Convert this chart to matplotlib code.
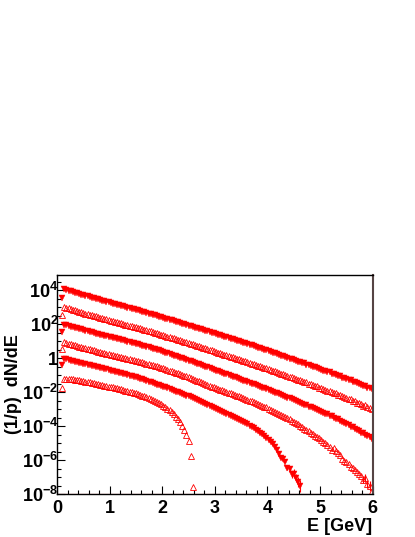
import numpy as np
import matplotlib
matplotlib.use('Agg')
import matplotlib.pyplot as plt
from matplotlib.ticker import FixedLocator, NullFormatter

plt.rcParams['font.family'] = 'Liberation Sans'
plt.rcParams['font.weight'] = 'bold'
plt.rcParams['mathtext.fontset'] = 'custom'
plt.rcParams['mathtext.rm'] = 'Liberation Sans:bold'
plt.rcParams['mathtext.bf'] = 'Liberation Sans:bold'
plt.rcParams['mathtext.it'] = 'Liberation Sans:bold'

# bin centres in GeV (0.04 GeV bins, first centre at 0.10)
E = np.round(np.arange(148) * 0.04 + 0.10, 2)

# log10 of (1/p) dN/dE, one list per spectrum, top to bottom
# (one line per GeV: 0.10-0.98, 1.02-1.98, ...)
s1 = [3.55, 4.06, 4.02, 3.98, 3.95, 3.91, 3.87, 3.83, 3.80, 3.76, 3.72, 3.68, 3.65, 3.61, 3.58, 3.54, 3.50, 3.47, 3.43, 3.40, 3.36, 3.32, 3.29,
      3.25, 3.22, 3.19, 3.16, 3.12, 3.09, 3.06, 3.02, 2.99, 2.96, 2.92, 2.89, 2.86, 2.82, 2.79, 2.75, 2.71, 2.68, 2.64, 2.60, 2.57, 2.53, 2.49, 2.46, 2.42,
      2.38, 2.34, 2.31, 2.27, 2.23, 2.19, 2.16, 2.12, 2.08, 2.04, 2.01, 1.97, 1.93, 1.89, 1.85, 1.81, 1.78, 1.74, 1.70, 1.66, 1.62, 1.58, 1.55, 1.51, 1.47,
      1.43, 1.39, 1.35, 1.31, 1.27, 1.23, 1.19, 1.16, 1.12, 1.08, 1.04, 1.00, 0.96, 0.92, 0.88, 0.84, 0.80, 0.76, 0.71, 0.67, 0.63, 0.59, 0.55, 0.51, 0.47,
      0.43, 0.38, 0.34, 0.30, 0.25, 0.22, 0.16, 0.13, 0.07, 0.04, -0.02, -0.05, -0.10, -0.13, -0.19, -0.22, -0.28, -0.30, -0.37, -0.40, -0.43, -0.50, -0.52, -0.60, -0.61,
      -0.68, -0.72, -0.74, -0.82, -0.83, -0.91, -0.93, -0.99, -1.05, -1.06, -1.15, -1.16, -1.22, -1.30, -1.30, -1.40, -1.40, -1.48, -1.52, -1.55, -1.64, -1.63, -1.74, -1.74, -1.83]
s2 = [2.55, 3.01, 2.97, 2.94, 2.90, 2.86, 2.83, 2.79, 2.75, 2.72, 2.68, 2.64, 2.61, 2.57, 2.54, 2.50, 2.47, 2.43, 2.40, 2.36, 2.33, 2.29, 2.26,
      2.22, 2.19, 2.16, 2.12, 2.09, 2.06, 2.02, 1.99, 1.96, 1.93, 1.89, 1.86, 1.83, 1.79, 1.76, 1.72, 1.69, 1.65, 1.61, 1.58, 1.54, 1.51, 1.47, 1.43, 1.40,
      1.36, 1.32, 1.28, 1.25, 1.21, 1.17, 1.13, 1.09, 1.05, 1.02, 0.98, 0.94, 0.90, 0.86, 0.82, 0.78, 0.74, 0.70, 0.66, 0.62, 0.58, 0.54, 0.50, 0.46, 0.42,
      0.38, 0.34, 0.30, 0.26, 0.22, 0.18, 0.14, 0.10, 0.06, 0.02, -0.02, -0.06, -0.10, -0.14, -0.18, -0.23, -0.27, -0.31, -0.35, -0.39, -0.44, -0.48, -0.52, -0.56, -0.60,
      -0.65, -0.69, -0.73, -0.77, -0.82, -0.86, -0.90, -0.95, -0.99, -1.03, -1.08, -1.12, -1.16, -1.20, -1.26, -1.28, -1.35, -1.38, -1.42, -1.49, -1.50, -1.58, -1.61, -1.64, -1.73,
      -1.74, -1.82, -1.84, -1.90, -1.95, -1.98, -2.06, -2.07, -2.16, -2.18, -2.25, -2.29, -2.35, -2.42, -2.42, -2.53, -2.54, -2.62, -2.66, -2.68, -2.80, -2.78, -2.90, -2.92, -2.98]
s3 = [1.54, 1.98, 1.94, 1.91, 1.87, 1.84, 1.80, 1.77, 1.73, 1.70, 1.66, 1.63, 1.59, 1.56, 1.53, 1.49, 1.46, 1.42, 1.39, 1.36, 1.32, 1.29, 1.26,
      1.23, 1.20, 1.17, 1.14, 1.11, 1.08, 1.05, 1.02, 0.99, 0.96, 0.93, 0.89, 0.86, 0.82, 0.79, 0.75, 0.71, 0.68, 0.64, 0.60, 0.57, 0.53, 0.49, 0.46, 0.42,
      0.38, 0.33, 0.29, 0.25, 0.21, 0.16, 0.12, 0.08, 0.03, -0.01, -0.05, -0.10, -0.14, -0.18, -0.23, -0.27, -0.32, -0.36, -0.41, -0.45, -0.50, -0.54, -0.59, -0.63, -0.68,
      -0.72, -0.77, -0.81, -0.86, -0.90, -0.95, -0.99, -1.04, -1.08, -1.13, -1.17, -1.22, -1.26, -1.31, -1.35, -1.40, -1.45, -1.50, -1.54, -1.59, -1.64, -1.68, -1.73, -1.78, -1.83,
      -1.87, -1.92, -1.97, -2.02, -2.07, -2.12, -2.17, -2.22, -2.27, -2.32, -2.37, -2.42, -2.47, -2.52, -2.57, -2.62, -2.68, -2.73, -2.78, -2.85, -2.87, -2.95, -2.98, -3.03, -3.11,
      -3.14, -3.20, -3.27, -3.31, -3.40, -3.43, -3.50, -3.58, -3.60, -3.70, -3.73, -3.80, -3.88, -3.92, -4.03, -4.05, -4.16, -4.22, -4.27, -4.38, -4.40, -4.52, -4.56, -4.62, -4.73]
s4 = [0.56, 0.94, 0.90, 0.86, 0.83, 0.79, 0.76, 0.72, 0.69, 0.65, 0.62, 0.59, 0.56, 0.52, 0.49, 0.46, 0.43, 0.40, 0.36, 0.33, 0.30, 0.27, 0.24,
      0.21, 0.18, 0.15, 0.12, 0.09, 0.06, 0.04, 0.01, -0.02, -0.05, -0.08, -0.11, -0.14, -0.17, -0.21, -0.24, -0.28, -0.31, -0.35, -0.38, -0.41, -0.45, -0.48, -0.52, -0.55,
      -0.59, -0.63, -0.68, -0.72, -0.76, -0.81, -0.85, -0.89, -0.94, -0.98, -1.02, -1.07, -1.11, -1.16, -1.21, -1.26, -1.31, -1.36, -1.42, -1.47, -1.52, -1.57, -1.62, -1.67, -1.72,
      -1.76, -1.81, -1.85, -1.89, -1.94, -1.98, -2.02, -2.07, -2.11, -2.15, -2.20, -2.24, -2.28, -2.33, -2.38, -2.43, -2.49, -2.54, -2.59, -2.64, -2.69, -2.74, -2.80, -2.85, -2.90,
      -2.96, -3.02, -3.09, -3.15, -3.22, -3.28, -3.34, -3.41, -3.47, -3.54, -3.60, -3.68, -3.74, -3.82, -3.90, -3.98, -4.06, -4.14, -4.22, -4.30, -4.38, -4.46, -4.56, -4.62, -4.72,
      -4.80, -4.92, -5.00, -5.14, -5.22, -5.38, -5.30, -5.45, -5.60, -5.70, -5.92, -6.05, -6.10, -6.25, -6.40, -6.45, -6.60, -6.70, -6.80, -6.95, -7.15, -7.05, -7.40, -7.55, -7.80]
s5 = [-0.38, -0.02, -0.06, -0.10, -0.13, -0.17, -0.20, -0.23, -0.27, -0.30, -0.33, -0.36, -0.39, -0.42, -0.45, -0.48, -0.51, -0.54, -0.57, -0.60, -0.63, -0.66, -0.69,
      -0.72, -0.75, -0.78, -0.82, -0.85, -0.88, -0.91, -0.95, -0.98, -1.02, -1.05, -1.09, -1.12, -1.16, -1.20, -1.24, -1.28, -1.33, -1.37, -1.41, -1.46, -1.50, -1.55, -1.59, -1.63,
      -1.68, -1.72, -1.77, -1.82, -1.87, -1.92, -1.96, -2.01, -2.06, -2.11, -2.16, -2.21, -2.25, -2.30, -2.36, -2.41, -2.47, -2.52, -2.58, -2.64, -2.70, -2.75, -2.81, -2.87, -2.93,
      -2.98, -3.04, -3.10, -3.16, -3.22, -3.28, -3.34, -3.40, -3.46, -3.52, -3.58, -3.64, -3.70, -3.76, -3.83, -3.90, -3.97, -4.04, -4.12, -4.20, -4.29, -4.38, -4.48, -4.58, -4.69,
      -4.80, -4.92, -5.08, -5.22, -5.40, -5.62, -5.85, -5.95, -6.10, -6.45, -6.55, -6.85, -6.80, -7.05, -7.30, -7.55]
s6 = [-1.75, -1.20, -1.21, -1.22, -1.24, -1.25, -1.27, -1.28, -1.30, -1.32, -1.35, -1.37, -1.39, -1.42, -1.44, -1.47, -1.50, -1.53, -1.56, -1.58, -1.61, -1.64, -1.67,
      -1.69, -1.72, -1.75, -1.77, -1.80, -1.83, -1.86, -1.90, -1.93, -1.96, -2.00, -2.04, -2.07, -2.11, -2.15, -2.20, -2.24, -2.29, -2.34, -2.39, -2.45, -2.51, -2.57, -2.64, -2.71,
      -2.79, -2.87, -2.97, -3.07, -3.19, -3.31, -3.45, -3.60, -3.78, -3.97, -4.20, -4.50, -4.90, -5.75, -7.60]

# error bars (log10 half-size) on the last, low-statistics points
s5_tail_err = [0.15, 0.18, 0.22, 0.25, 0.25, 0.30, 0.35]
s4_tail_err = [0.20, 0.25, 0.25, 0.30, 0.35]

fig = plt.figure(figsize=(4.15, 5.37), dpi=100)
ax = fig.add_axes([0.1373, 0.0801, 0.7608, 0.4084])

series = [(s1, 'v'), (s2, '^'), (s3, 'v'), (s4, '^'), (s5, 'v'), (s6, '^')]
for vals, mk in series:
    n = len(vals)
    y = 10.0 ** np.array(vals)
    if mk == 'v':
        ax.plot(E[:n], y, ls='none', marker='v', ms=3.9, mfc='red', mec='red', mew=0.3)
    else:
        ax.plot(E[:n], y, ls='none', marker='^', ms=3.9, mfc='none', mec='red', mew=0.6)

# vertical error bars on the tails
for vals, err in [(s5, s5_tail_err), (s4, s4_tail_err)]:
    n = len(vals)
    k = len(err)
    tail = np.array(vals[-k:])
    e = np.array(err)
    ax.vlines(E[n - k:n], 10 ** (tail - e), 10 ** (tail + e), color='red', lw=0.8)

ax.set_xlim(0, 6)
ax.set_yscale('log')
ax.set_ylim(1e-8, 10 ** 4.93)

ax.set_xticks(range(0, 7))
ax.set_xticklabels([str(i) for i in range(0, 7)])
ax.xaxis.set_minor_locator(FixedLocator(np.arange(0, 6.01, 0.2)))

major = [10.0 ** p for p in range(-8, 5, 2)]
ax.yaxis.set_major_locator(FixedLocator(major))
ax.set_yticklabels([r'$10^{%d}$' % p if p != 0 else '1' for p in range(-8, 5, 2)])
minor = [10.0 ** p for p in range(-7, 5, 2)] + [3 * 10.0 ** p for p in range(-8, 5)]
ax.yaxis.set_minor_locator(FixedLocator(minor))
ax.yaxis.set_minor_formatter(NullFormatter())

ax.tick_params(which='both', direction='in', top=False, right=False, labelsize=13, width=0.8)
ax.tick_params(which='major', length=6)
ax.tick_params(which='minor', length=3)
ax.tick_params(axis='y', pad=-1)
ax.tick_params(axis='x', pad=4)

for sp in ax.spines.values():
    sp.set_linewidth(1.0)
ax.spines['right'].set_color('#554444')
ax.spines['right'].set_linewidth(1.5)
ax.axhline(1e-8, color='red', lw=0.8, zorder=1)

fig.text(372 / 415, (537 - 518) / 537, 'E [GeV]', ha='right', va='top', fontsize=13, fontweight='bold')
fig.text(14 / 415, (537 - 384) / 537, '(1/p)  dN/dE', rotation=90, ha='center', va='center',
         fontsize=13, fontweight='bold')

fig.savefig('out.png', dpi=100)
